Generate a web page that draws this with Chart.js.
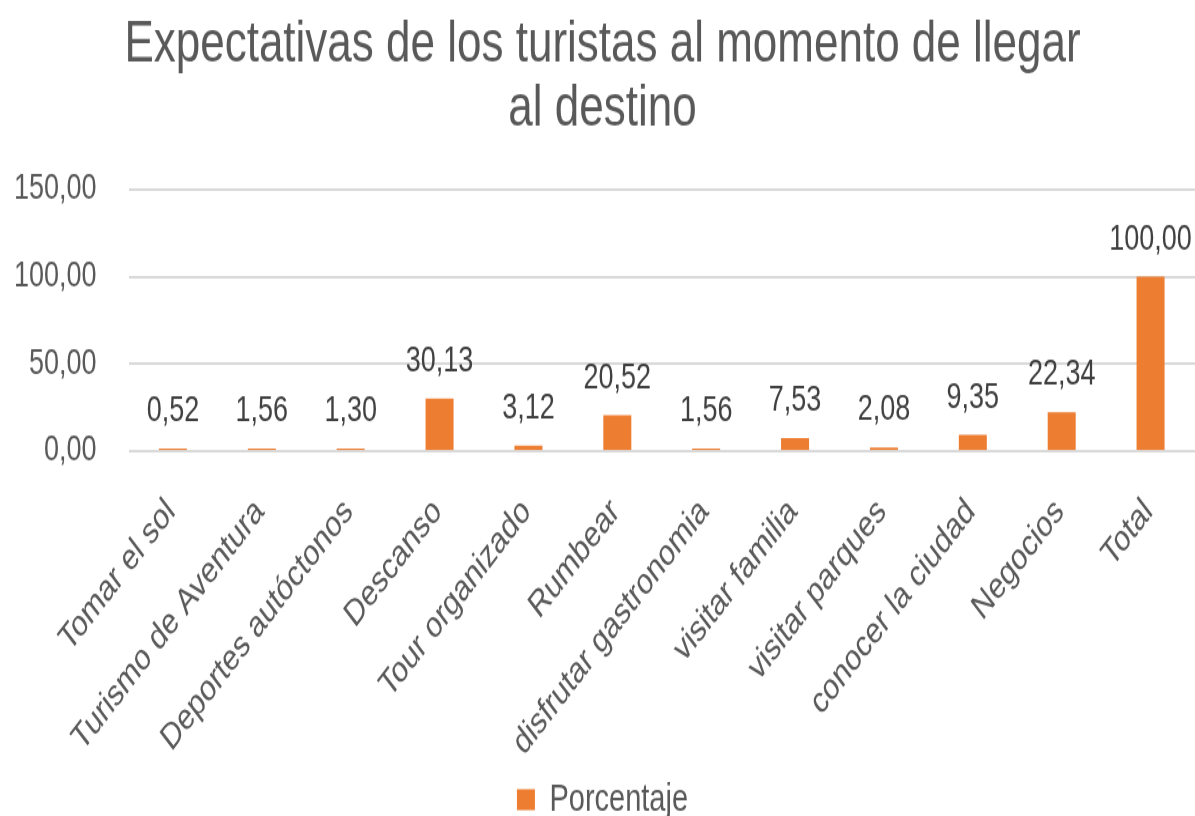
<!DOCTYPE html>
<html lang="es">
<head>
    <meta charset="UTF-8">
    <title>Expectativas de los turistas</title>
    <script src="https://cdn.jsdelivr.net/npm/chart.js"></script>
    <style>
        html, body {
            margin: 0;
            padding: 0;
            background: #ffffff;
        }
        body {
            width: 1195px;
            height: 816px;
            overflow: hidden;
        }
        #wrap {
            width: 1195px;
            height: 624px;
            transform: scaleY(1.3077);
            transform-origin: 0 0;
        }
    </style>
</head>
<body>
    <div id="wrap"><canvas id="grafico" width="1195" height="624"></canvas></div>

    <script>
        const categorias = [
            'Tomar el sol', 'Turismo de Aventura', 'Deportes autóctonos', 'Descanso',
            'Tour organizado', 'Rumbear', 'disfrutar gastronomia', 'visitar familia',
            'visitar parques', 'conocer la ciudad', 'Negocios', 'Total'
        ];
        const porcentaje = [0.52, 1.56, 1.30, 30.13, 3.12, 20.52, 1.56, 7.53, 2.08, 9.35, 22.34, 100.00];
        const ticksY = [0, 50, 100, 150];

        const naranja = '#ED7D31';
        const fuente = "'Liberation Sans', Arial, sans-serif";

        function formato(v) {
            return v.toFixed(2).replace('.', ',');
        }

        // etiquetas de valor encima de cada barra
        const etiquetas = {
            id: 'etiquetas',
            afterDatasetsDraw(chart) {
                const ctx = chart.ctx;
                const meta = chart.getDatasetMeta(0);
                ctx.save();
                ctx.font = '27px ' + fuente;
                ctx.fillStyle = '#404040';
                ctx.textAlign = 'center';
                ctx.textBaseline = 'alphabetic';
                meta.data.forEach((bar, i) => {
                    ctx.fillText(formato(porcentaje[i]), bar.x, bar.y - 21);
                });
                ctx.restore();
            }
        };

        new Chart(document.getElementById('grafico'), {
            type: 'bar',
            data: {
                labels: categorias,
                datasets: [{
                    label: 'Porcentaje',
                    data: porcentaje,
                    backgroundColor: naranja,
                    categoryPercentage: 1,
                    barPercentage: 0.315,
                    minBarLength: 2
                }]
            },
            options: {
                responsive: false,
                animation: false,
                layout: {
                    padding: { left: 10, right: 0, top: 0, bottom: -12 }
                },
                scales: {
                    y: {
                        min: 0,
                        max: 150,
                        afterFit(scale) { scale.width = 118.5; },
                        afterBuildTicks(scale) {
                            scale.ticks = ticksY.map(v => ({ value: v }));
                        },
                        border: { display: false },
                        grid: {
                            color: '#D9D9D9',
                            lineWidth: 2,
                            drawTicks: false
                        },
                        ticks: {
                            color: '#595959',
                            font: { family: fuente, size: 27 },
                            padding: 32,
                            callback: v => formato(v)
                        }
                    },
                    x: {
                        afterFit(scale) {
                            scale.height = 248;
                            scale.paddingRight = 0;
                            scale.paddingLeft = 0;
                        },
                        border: { display: false },
                        grid: { display: false, drawTicks: false },
                        ticks: {
                            color: '#595959',
                            font: { family: fuente, size: 28 },
                            minRotation: 45,
                            maxRotation: 45,
                            autoSkip: false,
                            padding: 30,
                            labelOffset: -2
                        }
                    }
                },
                plugins: {
                    title: {
                        display: true,
                        text: ['Expectativas de los turistas al momento de llegar', 'al destino'],
                        color: '#595959',
                        font: { family: fuente, size: 44, weight: 'normal', lineHeight: 1.1 },
                        padding: { top: 11, bottom: 37 }
                    },
                    legend: {
                        position: 'bottom',
                        labels: {
                            color: '#595959',
                            font: { family: fuente, size: 29 },
                            boxWidth: 18,
                            boxHeight: 16,
                            padding: 4
                        }
                    },
                    tooltip: { enabled: false }
                }
            },
            plugins: [etiquetas]
        });
    </script>
</body>
</html>
